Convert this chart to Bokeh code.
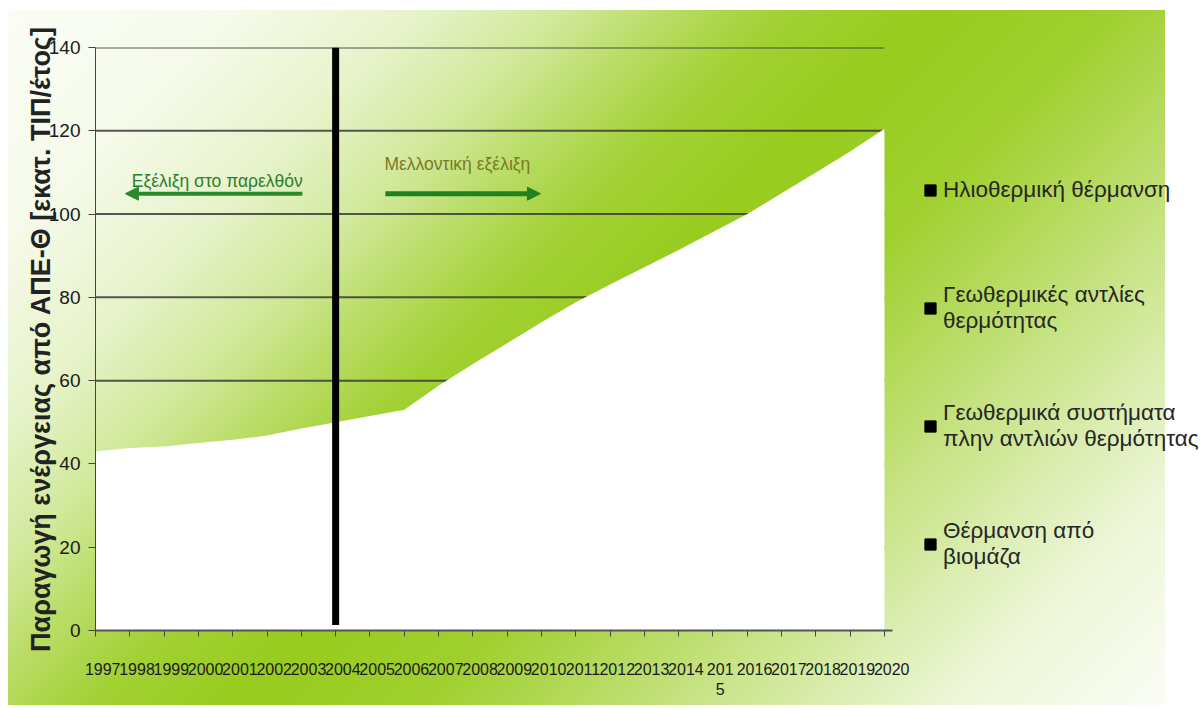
from bokeh.plotting import figure
from bokeh.models import (Range1d, FixedTicker, Legend, LegendItem, Label, Arrow,
                          NormalHead, ColumnDataSource, CustomJSTickFormatter)
from bokeh.embed import file_html
from bokeh.resources import INLINE

# ---------------- data ----------------
years = list(range(1997, 2021))
total = [43.0, 43.8, 44.2, 45.0, 45.8, 46.8, 48.5, 50.0, 51.5, 53.0,
         58.8, 64.0, 69.0, 74.0, 78.8, 83.1, 87.2, 91.4, 95.7, 100.0,
         105.0, 110.0, 115.0, 120.5]
y_ticks = [0, 20, 40, 60, 80, 100, 120, 140]
divider_year = [2004]
divider_bottom = [1.3]
divider_top = [140]
series_names = ["Ηλιοθερμική θέρμανση",
                "Γεωθερμικές αντλίες\nθερμότητας",
                "Γεωθερμικά συστήματα\nπλην αντλιών θερμότητας",
                "Θέρμανση από\nβιομάζα"]
past_text = "Εξέλιξη στο παρελθόν"
future_text = "Μελλοντική εξέλιξη"
y_label = "Παραγωγή ενέργειας από ΑΠΕ-Θ [εκατ. ΤΙΠ/έτος]"

SANS = "'Liberation Sans', Arial, sans-serif"

W, H = 1200, 705
LEFT, TOP, BOTTOM = 95, 47, 75
px_per_year = (884 - 95) / (years[-1] - years[0])
x_end = years[0] + (W - LEFT) / px_per_year   # frame runs on under the legend
label_shift = 0.21                            # year labels sit right of their ticks

p = figure(width=W, height=H, output_backend="svg", toolbar_location=None,
           x_range=Range1d(years[0], x_end), y_range=Range1d(0, 140),
           min_border_left=LEFT, min_border_right=0, min_border_top=TOP,
           min_border_bottom=BOTTOM)
box = "8px 10px / 1157px 695px no-repeat"
G = "152,204,30"
p.styles = {
    "background": (
        "linear-gradient(135deg, "
        f"rgba({G},0) 0%, rgba({G},0.05) 12%, rgba({G},0.2) 22%, rgba({G},0.42) 30%, "
        f"rgba({G},0.68) 36%, rgba({G},0.9) 42%, rgba({G},1) 50%, rgba({G},0.92) 60%, "
        f"rgba({G},0.7) 68%, rgba({G},0.42) 78%, rgba({G},0.15) 88%, rgba({G},0) 100%) "
        + box + ", "
        "linear-gradient(#fbfdf6, #fbfdf6) " + box + ", "
        "#ffffff"
    )
}
p.background_fill_color = None
p.border_fill_color = None
p.outline_line_color = None

# horizontal grid lines, only across the years of the chart
p.xgrid.grid_line_color = None
p.ygrid.grid_line_color = None
gl = y_ticks[1:]
p.segment(x0=[years[0]] * len(gl), x1=[years[-1]] * len(gl), y0=gl, y1=gl,
          line_color="#3a3a3a", line_width=2, line_alpha=0.85)

# x axis: tick marks at the years (minor ticks), labels slightly to the right
xa = p.xaxis[0]
xa.bounds = (years[0], years[-1] + label_shift + 0.01)
xa.ticker = FixedTicker(ticks=[y + label_shift for y in years], minor_ticks=years)
xa.formatter = CustomJSTickFormatter(code="""
    const y = Math.round(tick);
    return y == 2015 ? "201\\n5" : String(y);
""")
xa.major_tick_line_color = None
xa.major_tick_out = 0
xa.major_tick_in = 0
xa.minor_tick_out = 6
xa.minor_tick_in = 0
xa.minor_tick_line_color = "#444444"
xa.axis_line_color = "#555555"
xa.axis_line_width = 2
xa.major_label_standoff = 24
xa.major_label_text_font = SANS
xa.major_label_text_font_size = "16px"
xa.major_label_text_color = "#1a1a1a"

p.yaxis.ticker = FixedTicker(ticks=y_ticks)
p.yaxis.major_label_text_font = SANS
p.yaxis.major_label_text_font_size = "19px"
p.yaxis.major_label_text_color = "#1a1a1a"
p.yaxis.major_label_text_baseline = "top"
p.yaxis.major_label_standoff = 8
p.yaxis.major_tick_out = 7
p.yaxis.major_tick_in = 0
p.yaxis.minor_tick_line_color = None
p.yaxis.axis_line_color = "#444444"
p.yaxis.major_tick_line_color = "#444444"
p.yaxis.axis_label = y_label
p.yaxis.axis_label_text_font = SANS
p.yaxis.axis_label_text_font_size = "27px"
p.yaxis.axis_label_text_font_style = "bold"
p.yaxis.axis_label_text_color = "#222222"
p.yaxis.axis_label_standoff = -10

# white total area
src = ColumnDataSource(dict(x=years, y=total, y0=[0] * len(years)))
p.varea(x="x", y1="y0", y2="y", source=src, fill_color="white", fill_alpha=1.0)

# divider between past and future
p.segment(x0=divider_year, x1=divider_year, y0=divider_bottom, y1=divider_top,
          line_color="black", line_width=7)

# arrows and captions
arrow_y = 104.9
p.add_layout(Arrow(end=NormalHead(size=13, fill_color="#2a8a2a", line_color="#2a8a2a"),
                   x_start=2003.03, y_start=arrow_y, x_end=1997.87, y_end=arrow_y,
                   line_color="#2a8a2a", line_width=4))
p.add_layout(Arrow(end=NormalHead(size=13, fill_color="#1f821f", line_color="#1f821f"),
                   x_start=2005.45, y_start=arrow_y, x_end=2009.97, y_end=arrow_y,
                   line_color="#1f821f", line_width=5))
p.add_layout(Label(x=2000.55, y=105.6, text=past_text, text_align="center",
                   text_baseline="bottom", text_font=SANS,
                   text_font_size="17.5px", text_color="#2a7f2a"))
p.add_layout(Label(x=2007.55, y=109.6, text=future_text, text_align="center",
                   text_baseline="bottom", text_font=SANS,
                   text_font_size="17.5px", text_color="#7a7a24"))

# legend (all markers black, as in the original; no separate series values shown)
nan = float("nan")
rends = []
for _ in series_names:
    rends.append(p.quad(left=[nan], right=[nan], top=[nan], bottom=[nan],
                        fill_color="black", line_color="black"))
legend = Legend(items=[LegendItem(label=n, renderers=[r]) for n, r in zip(series_names, rends)],
                location=(828, 59))
legend.label_text_font = SANS
legend.label_text_font_size = "22.5px"
legend.label_text_color = "#262626"
legend.glyph_width = 14
legend.glyph_height = 14
legend.label_standoff = 6
legend.label_height = 54
legend.spacing = 64
legend.padding = 0
legend.margin = 0
legend.background_fill_alpha = 0
legend.border_line_alpha = 0
p.add_layout(legend)

open("out.html", "w").write(file_html(p, INLINE))
